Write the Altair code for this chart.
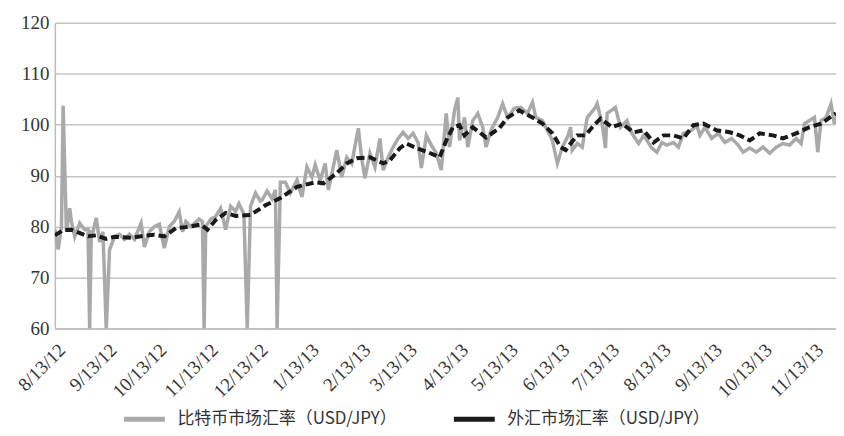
import altair as alt
import pandas as pd

# ---- data ----
start_date = "2012-08-13"

# forex market USD/JPY (black dashed)
fx_days = [0, 5, 10, 20, 25, 31, 36, 46, 54, 60, 66, 73, 79, 88, 92, 97, 103, 109, 118,
           127, 136, 146, 157, 162, 170, 176, 182, 190, 198, 202, 208, 212, 218, 225, 232,
           236, 240, 244, 247, 252, 260, 268, 273, 280, 288, 294, 300, 305, 308, 311, 315,
           320, 324, 329, 336, 342, 349, 355, 361, 367, 373, 379, 385, 391, 399, 407, 413,
           419, 425, 433, 439, 447, 455, 462, 469, 471]
fx_vals = [78.3, 79.3, 79.4, 78.1, 78.3, 77.6, 78.0, 77.8, 78.2, 78.4, 78.1, 79.7, 79.9,
           80.4, 79.4, 81.3, 82.7, 82.1, 82.3, 84.2, 85.6, 87.8, 88.7, 88.5, 90.5, 92.4,
           93.4, 93.6, 92.4, 93.0, 95.4, 96.3, 95.4, 94.6, 93.6, 96.9, 99.5, 99.9, 97.9,
           99.5, 97.5, 99.3, 101.4, 102.8, 101.4, 100.2, 98.3, 95.6, 95.0, 96.3, 97.9,
           97.9, 99.5, 101.2, 99.5, 100.2, 98.5, 98.9, 96.5, 97.9, 97.9, 97.3, 99.9,
           100.2, 98.9, 98.5, 97.9, 96.9, 98.3, 97.9, 97.3, 98.3, 99.5, 100.2, 101.8, 102.2]

# bitcoin market implied USD/JPY (gray)
btc_days = [0, 2, 4, 5, 7, 9, 10, 12, 15, 18, 20, 21, 22, 23, 25, 27, 29, 31, 33, 36, 39,
            42, 45, 48, 52, 54, 57, 60, 63, 66, 69, 72, 75, 77, 79, 82, 87, 89, 90, 91, 94,
            97, 100, 103, 106, 109, 111, 114, 116, 118, 121, 124, 125, 128, 131, 133, 134,
            136, 139, 142, 146, 149, 152, 155, 157, 160, 163, 165, 170, 173, 176, 179, 183,
            185, 187, 190, 193, 196, 198, 201, 204, 207, 210, 213, 216, 219, 221, 224, 227,
            230, 233, 236, 238, 241, 243, 244, 247, 249, 252, 255, 258, 260, 263, 267, 270,
            273, 277, 281, 285, 288, 290, 294, 297, 300, 303, 306, 309, 311, 312, 315, 318,
            321, 326, 327, 330, 332, 333, 338, 341, 345, 348, 352, 355, 360, 363, 366, 369,
            373, 376, 379, 384, 387, 389, 392, 396, 400, 404, 408, 412, 415, 419, 423, 427,
            431, 435, 439, 443, 447, 450, 452, 455, 458, 460, 462, 465, 468, 470, 471]
btc_vals = [79.5, 75.5, 80.0, 103.7, 79.0, 83.6, 81.0, 78.0, 80.7, 79.4, 79.5, 60.0, 79.0,
            79.0, 81.7, 77.0, 79.0, 60.0, 75.5, 78.0, 78.5, 77.5, 78.5, 77.5, 80.7, 76.0,
            79.0, 80.0, 80.5, 75.8, 80.0, 81.0, 82.9, 79.0, 81.0, 80.0, 81.5, 81.0, 60.0,
            80.0, 81.5, 82.0, 83.6, 79.4, 84.0, 83.0, 84.5, 82.5, 60.0, 84.0, 86.6, 85.0,
            85.2, 87.0, 85.5, 87.2, 60.0, 88.7, 88.7, 86.6, 89.1, 85.8, 91.7, 89.7, 92.1,
            89.1, 92.4, 87.2, 95.0, 89.7, 93.6, 92.4, 99.3, 93.4, 89.5, 94.4, 91.7, 97.3,
            91.1, 93.6, 95.6, 97.3, 98.5, 97.3, 98.3, 96.5, 91.5, 97.9, 96.0, 94.4, 91.1,
            102.2, 95.6, 102.8, 105.3, 96.9, 101.4, 95.6, 100.8, 102.2, 99.5, 95.6, 98.9,
            101.4, 104.1, 101.4, 103.2, 103.4, 102.2, 104.4, 101.4, 100.8, 98.9, 96.9, 92.4,
            95.6, 97.5, 99.5, 95.0, 96.3, 95.6, 101.4, 103.4, 104.1, 100.2, 95.4, 102.2,
            103.4, 99.5, 100.8, 98.3, 96.3, 97.9, 95.4, 94.6, 96.5, 96.0, 96.5, 95.6, 98.3,
            98.9, 99.9, 97.9, 99.5, 97.3, 98.3, 96.5, 97.3, 96.0, 94.6, 95.4, 94.6, 95.6,
            94.4, 95.6, 96.3, 96.0, 97.3, 96.3, 100.2, 100.8, 101.4, 94.6, 100.8, 101.4,
            104.1, 100.2, 101.5]

series_names = ["比特币市场汇率（USD/JPY）", "外汇市场汇率（USD/JPY）"]
series_colors = ["#a9a9a9", "#1a1a1a"]

tick_dates = [(2012, 8), (2012, 9), (2012, 10), (2012, 11), (2012, 12), (2013, 1),
              (2013, 2), (2013, 3), (2013, 4), (2013, 5), (2013, 6), (2013, 7),
              (2013, 8), (2013, 9), (2013, 10), (2013, 11)]
y_ticks = [60, 70, 80, 90, 100, 110, 120]

# ---- build table ----
t0 = pd.Timestamp(start_date)
df_btc = pd.DataFrame({
    "date": [t0 + pd.Timedelta(days=d) for d in btc_days],
    "value": btc_vals,
    "series": series_names[0],
})
df_fx = pd.DataFrame({
    "date": [t0 + pd.Timedelta(days=d) for d in fx_days],
    "value": fx_vals,
    "series": series_names[1],
})
df = pd.concat([df_btc, df_fx], ignore_index=True)

serif = "Liberation Serif"
cjk = "Noto Sans CJK SC"

x_enc = alt.X(
    "date:T",
    scale=alt.Scale(domain=[alt.DateTime(year=2012, month=8, date=13),
                            alt.DateTime(year=2013, month=11, date=27)]),
    axis=alt.Axis(
        title=None,
        values=[alt.DateTime(year=y, month=m, date=13) for y, m in tick_dates],
        format="%-m/%-d/%y",
        labelAngle=-45,
        labelAlign="right",
        labelBaseline="middle",
        labelPadding=18,
        labelOffset=7,
        labelFont=serif,
        labelFontSize=19,
        labelColor="#333333",
        ticks=False,
        grid=False,
        domainColor="#bdbdbd",
        domainWidth=1.5,
        labelOverlap=False,
    ),
)
y_enc = alt.Y(
    "value:Q",
    scale=alt.Scale(domain=[60, 120], nice=False, zero=False),
    axis=alt.Axis(
        title=None,
        values=y_ticks,
        labelFont=serif,
        labelFontSize=19,
        labelColor="#333333",
        labelPadding=6,
        ticks=False,
        grid=True,
        gridColor="#c4c4c4",
        gridWidth=1.5,
        domainColor="#bdbdbd",
        domainWidth=1.5,
    ),
)
color_enc = alt.Color(
    "series:N",
    scale=alt.Scale(domain=series_names, range=series_colors),
    legend=alt.Legend(
        title=None,
        orient="none",
        legendX=67,
        legendY=375,
        direction="horizontal",
        symbolType="stroke",
        symbolSize=1681,
        symbolStrokeWidth=5,
        symbolDash=[1, 0],
        labelFont=cjk,
        labelFontSize=17,
        labelColor="#333333",
        labelOffset=10,
        columnPadding=46,
        padding=0,
        labelLimit=400,
    ),
)

gray = alt.Chart(df).transform_filter(
    alt.datum.series == series_names[0]
).mark_line(strokeWidth=3.5, clip=True).encode(x=x_enc, y=y_enc, color=color_enc)

black = alt.Chart(df).transform_filter(
    alt.datum.series == series_names[1]
).mark_line(strokeWidth=4, strokeDash=[8, 4], clip=True).encode(x=x_enc, y=y_enc, color=color_enc)

chart = alt.layer(gray, black).properties(
    width=784,
    height=307,
    padding={"left": 47, "top": 14, "right": 0, "bottom": 99},
    autosize=alt.AutoSizeParams(type="none"),
    background="white",
).configure_view(stroke=None)

chart.save("out.html", embed_options={"renderer": "svg", "actions": False})
